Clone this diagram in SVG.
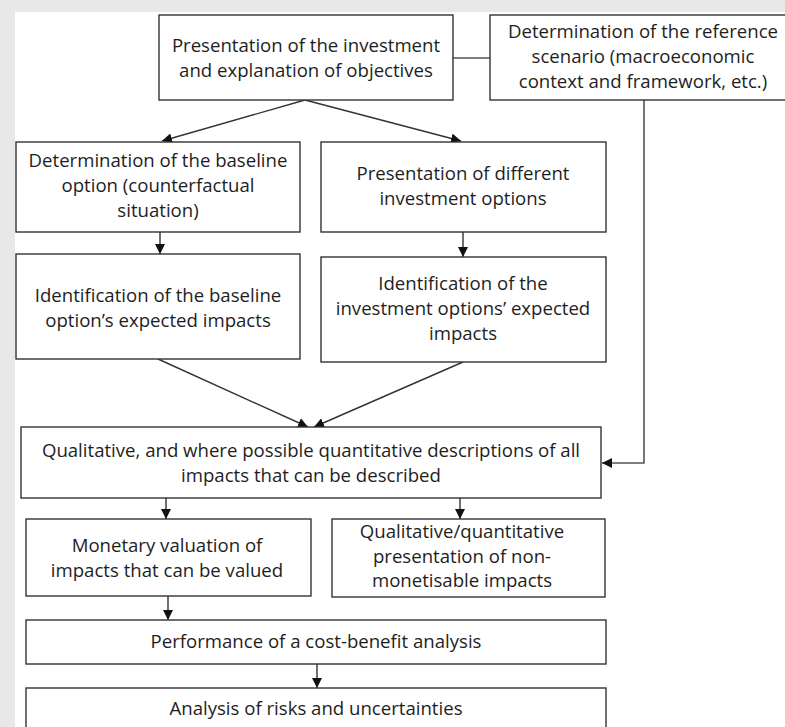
<svg xmlns="http://www.w3.org/2000/svg" width="785" height="727" viewBox="0 0 785 727">
<defs>
<style>
.box{fill:#fff;stroke:#333;stroke-width:1.4}
.t{font-family:"Open Sans","Liberation Sans",Arial,sans-serif;font-size:18.6px;fill:#1e1e1e;text-anchor:middle}
.c{stroke:#333;stroke-width:1.4;fill:none}
.g{stroke:#555;stroke-width:1.6;fill:none}
</style>
<marker id="ah" viewBox="0 0 10 10" refX="10" refY="5" markerWidth="10" markerHeight="10" markerUnits="userSpaceOnUse" orient="auto">
<path d="M0,0 L10,5 L0,10 z" fill="#111"/>
</marker>
</defs>
<rect x="0" y="0" width="785" height="727" fill="#e8e8e8"/>
<rect x="15" y="12" width="770" height="715" fill="#fff"/>
<g id="connectors">
<line class="g" x1="453" y1="58" x2="490" y2="58"/>
<polyline class="g" points="644,100 644,463 602,463" marker-end="url(#ah)"/>
<line class="c" x1="305" y1="100" x2="162" y2="141" marker-end="url(#ah)"/>
<line class="c" x1="305" y1="100" x2="461" y2="141" marker-end="url(#ah)"/>
<line class="c" x1="160" y1="232" x2="160" y2="254" marker-end="url(#ah)"/>
<line class="c" x1="463" y1="232" x2="463" y2="257" marker-end="url(#ah)"/>
<line class="c" x1="158" y1="359" x2="308" y2="427" marker-end="url(#ah)"/>
<line class="c" x1="463" y1="362" x2="314" y2="427" marker-end="url(#ah)"/>
<line class="c" x1="166" y1="498" x2="166" y2="519" marker-end="url(#ah)"/>
<line class="c" x1="460" y1="498" x2="460" y2="519" marker-end="url(#ah)"/>
<line class="c" x1="168" y1="596" x2="168" y2="620" marker-end="url(#ah)"/>
<line class="c" x1="317" y1="664" x2="317" y2="688" marker-end="url(#ah)"/>
</g>
<g id="presentation">
<rect class="box" x="159" y="15" width="294" height="85"/>
<text class="t" x="306" y="52">Presentation of the investment</text>
<text class="t" x="306" y="77">and explanation of objectives</text>
</g>
<g id="reference">
<rect class="box" x="490" y="15" width="306" height="85"/>
<text class="t" x="643" y="38">Determination of the reference</text>
<text class="t" x="643" y="63">scenario (macroeconomic</text>
<text class="t" x="643" y="88">context and framework,  etc.)</text>
</g>
<g id="baseline">
<rect class="box" x="16" y="142" width="284" height="90"/>
<text class="t" x="158" y="167">Determination of the baseline</text>
<text class="t" x="158" y="192">option (counterfactual</text>
<text class="t" x="158" y="217">situation)</text>
</g>
<g id="options">
<rect class="box" x="321" y="142" width="285" height="90"/>
<text class="t" x="463" y="180">Presentation of different</text>
<text class="t" x="463" y="205">investment options</text>
</g>
<g id="baseline-impacts">
<rect class="box" x="16" y="254" width="284" height="105"/>
<text class="t" x="158" y="302">Identification of the baseline</text>
<text class="t" x="158" y="327">option’s expected impacts</text>
</g>
<g id="options-impacts">
<rect class="box" x="321" y="257" width="285" height="105"/>
<text class="t" x="463" y="290">Identification of the</text>
<text class="t" x="463" y="315">investment options’ expected</text>
<text class="t" x="463" y="340">impacts</text>
</g>
<g id="descriptions">
<rect class="box" x="21" y="427" width="580" height="71"/>
<text class="t" x="311" y="457">Qualitative, and where possible quantitative descriptions of all</text>
<text class="t" x="311" y="482">impacts that can be described</text>
</g>
<g id="monetary">
<rect class="box" x="26" y="519" width="285" height="77"/>
<text class="t" x="167" y="552">Monetary  valuation of</text>
<text class="t" x="167" y="577">impacts that can be valued</text>
</g>
<g id="non-monetisable">
<rect class="box" x="332" y="519" width="273" height="78"/>
<text class="t" x="462" y="538">Qualitative/quantitative</text>
<text class="t" x="462" y="563">presentation of non-</text>
<text class="t" x="462" y="587">monetisable impacts</text>
</g>
<g id="cba">
<rect class="box" x="26" y="620" width="580" height="44"/>
<text class="t" x="316" y="648">Performance of a cost-benefit analysis</text>
</g>
<g id="risks">
<rect class="box" x="26" y="688" width="580" height="50"/>
<text class="t" x="316" y="715">Analysis of risks and uncertainties</text>
</g>
</svg>
